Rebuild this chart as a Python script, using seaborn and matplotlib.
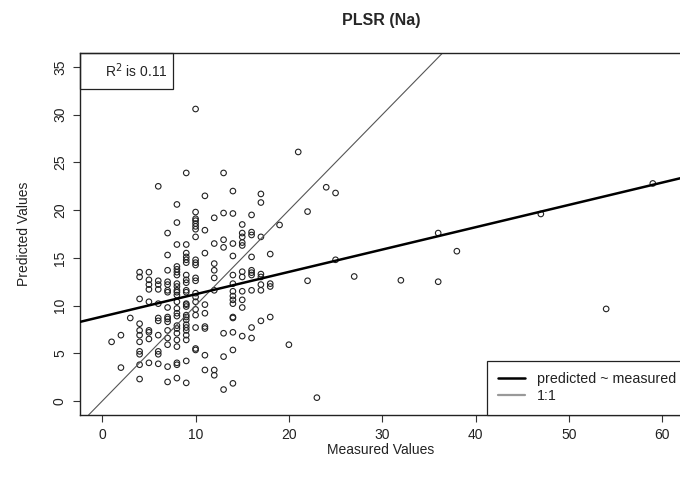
import numpy as np
import pandas as pd
import matplotlib
matplotlib.use("Agg")
import matplotlib.pyplot as plt
import seaborn as sns
from matplotlib.lines import Line2D
from matplotlib.patches import Rectangle

# ---- data ----
pred_by_measured = {
    1: [6.2],
    2: [6.9, 3.5],
    3: [8.7],
    4: [13.5, 13.0, 10.7, 8.1, 7.4, 6.9, 6.2, 5.2, 4.9, 3.8, 2.3],
    5: [13.5, 12.7, 12.2, 11.7, 10.4, 7.4, 7.2, 6.5, 4.0],
    6: [22.5, 12.6, 12.2, 11.7, 10.2, 8.7, 8.4, 6.9, 5.2, 4.9, 3.9],
    7: [17.6, 15.3, 13.7, 12.5, 12.2, 11.6, 11.4, 9.8, 8.8, 8.6, 8.3, 7.4, 6.6, 5.9, 3.6, 2.0],
    8: [20.6, 18.7, 16.4, 14.1, 13.8, 13.5, 13.2, 12.3, 12.0, 11.6, 11.4, 11.1, 10.4, 9.7,
        9.2, 8.9, 7.9, 7.6, 7.1, 6.4, 5.7, 4.0, 3.8, 2.4],
    9: [23.9, 16.4, 15.5, 15.1, 14.8, 14.5, 13.2, 12.7, 12.4, 11.6, 11.4, 10.2, 10.1, 9.9,
        9.0, 8.8, 8.5, 8.0, 7.7, 7.4, 6.9, 6.4, 4.2, 1.9],
    10: [30.6, 19.8, 19.1, 18.9, 18.6, 18.3, 18.0, 17.2, 14.8, 14.5, 14.25, 12.9, 12.6, 11.3,
         10.9, 10.4, 9.6, 9.0, 7.7, 5.5, 5.35],
    11: [21.5, 17.9, 15.5, 10.1, 9.2, 7.8, 7.6, 4.8, 3.25],
    12: [19.2, 16.5, 14.4, 13.7, 12.9, 11.6, 3.25, 2.7],
    13: [23.9, 19.7, 16.9, 16.1, 7.1, 4.65, 1.2],
    14: [22.0, 19.65, 16.5, 15.2, 13.2, 12.3, 11.5, 11.0, 10.6, 10.2, 8.8, 8.7, 7.2, 5.35, 1.85],
    15: [18.5, 17.6, 17.2, 16.6, 16.3, 13.55, 13.0, 11.5, 10.6, 9.8, 6.8],
    16: [19.5, 17.7, 17.4, 15.1, 13.7, 13.45, 13.2, 11.6, 7.7, 6.6],
    17: [21.7, 20.8, 17.2, 13.3, 13.0, 12.2, 11.6, 8.4],
    18: [15.4, 12.3, 12.0, 8.8],
    19: [18.45],
    20: [5.9],
    21: [26.1],
    22: [19.85, 12.6],
    23: [0.35],
    24: [22.4],
    25: [21.8, 14.8],
    27: [13.05],
    32: [12.65],
    36: [17.6, 12.5],
    38: [15.7],
    47: [19.6],
    54: [9.65],
    59: [22.8],
}
measured = [m for m, ps in pred_by_measured.items() for _ in ps]
predicted = [p for ps in pred_by_measured.values() for p in ps]

fit_intercept = 8.85
fit_slope = 0.234
r_squared = 0.11
x_ticks = [0, 10, 20, 30, 40, 50, 60]
y_ticks = [0, 5, 10, 15, 20, 25, 30, 35]

df = pd.DataFrame({"Measured": measured, "Predicted": predicted})

# ---- figure ----
sns.set_style("white")
plt.rcParams["font.family"] = ["Liberation Sans", "DejaVu Sans"]

W, H = 680, 490
fig = plt.figure(figsize=(W / 100, H / 100), dpi=100)
left_px, right_px, top_px, bot_px = 79.5, 680.8, 53, 415
aw, ah = right_px - left_px, bot_px - top_px
ax = fig.add_axes([left_px / W, 1 - bot_px / H, aw / W, ah / H])

sns.scatterplot(data=df, x="Measured", y="Predicted", ax=ax, marker="o",
                facecolor="none", edgecolor="#222222", linewidth=0.8, s=16, legend=False)

ax.axline((0, fit_intercept), slope=fit_slope, color="black", lw=1.8, zorder=3)
ax.axline((0, 0), slope=1, color="#555555", lw=0.8, zorder=2)

ax.set_xlim(-2.44, 62.0)
ax.set_ylim(-1.467, 36.47)
ax.set_xticks(x_ticks)
ax.set_yticks(y_ticks)
ax.tick_params(axis="both", direction="out", length=5, width=0.8, color="#333333",
               labelsize=10, labelcolor="#222222", pad=4, bottom=True, left=True)
for lab in ax.get_yticklabels():
    lab.set_rotation(90)
    lab.set_va("center")
for sp in ax.spines.values():
    sp.set_color("#222222")
    sp.set_linewidth(1.0)

ax.set_xlabel("Measured Values", fontsize=10, color="#222222")
ax.set_ylabel("Predicted Values", fontsize=10, color="#222222")
ax.xaxis.set_label_coords(0.5, -(443 - bot_px) / ah)
ax.yaxis.set_label_coords(-(left_px - 31) / aw, 0.5)

fig.text(381.6 / W, 1 - 20 / H, "PLSR (Na)", ha="center", va="center",
         fontsize=11.5, fontweight="bold")

# R^2 box (top-left)
bw = (172.7 - left_px) / aw
bh = (89 - top_px) / ah
ax.add_patch(Rectangle((0, 1 - bh), bw, bh, transform=ax.transAxes, fill=False,
                       edgecolor="#222222", lw=0.9, zorder=5, clip_on=False))
ax.text((136 - left_px) / aw, 1 - bh / 2, r"R$^2$ is " + f"{r_squared:.2f}",
        transform=ax.transAxes, ha="center", va="center", fontsize=10, color="#222222")

# legend (bottom-right)
handles = [Line2D([], [], color="black", lw=1.8), Line2D([], [], color="#999999", lw=1.6)]
leg = ax.legend(handles, ["predicted ~ measured", "1:1"], loc="lower right",
                bbox_to_anchor=(1.0 + 7 / aw, 0.0), borderaxespad=0, fancybox=False,
                edgecolor="#222222", framealpha=1, fontsize=10.3, handlelength=1.84,
                handletextpad=0.84, borderpad=0.82, labelspacing=0.2)
leg.get_frame().set_linewidth(0.9)
for t in leg.get_texts():
    t.set_color("#222222")

fig.savefig("out.png", dpi=100, facecolor="white")
